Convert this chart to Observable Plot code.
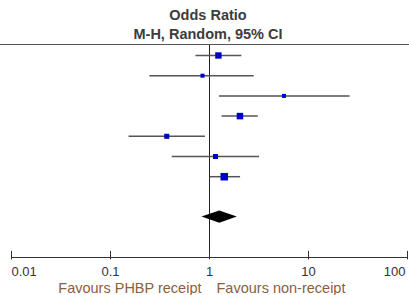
<!DOCTYPE html>
<html><head><meta charset="utf-8">
<script src="https://cdn.jsdelivr.net/npm/d3@7"></script>
<script src="https://cdn.jsdelivr.net/npm/@observablehq/plot@0.6"></script>
<style>
body{margin:0;background:#fff;font-family:"Liberation Sans",Arial,sans-serif;overflow:hidden;}
#head{position:relative;width:409px;height:44px;border-bottom:1px solid #555;overflow:hidden;}
.t{position:absolute;left:0;width:416px;text-align:center;font-weight:bold;font-size:14.5px;color:#3c3c3c;line-height:16px;}
#chart svg{display:block;}
</style></head><body>
<div id="head"><div class="t" style="top:7px">Odds Ratio</div><div class="t" style="top:26px">M-H, Random, 95% CI</div></div>
<div id="chart"></div>
<script>
// Study odds ratios with 95% CI, weights in %
const orEst  = [1.23, 0.85, 5.65, 2.03, 0.37, 1.15, 1.41];
const ciLo   = [0.73, 0.25, 1.26, 1.34, 0.154, 0.42, 1.02];
const ciHi   = [2.12, 2.83, 26.3, 3.11, 0.91, 3.2, 2.06];
const weight = [18.2, 7.3, 7.3, 19.1, 11.4, 11.4, 25.3];
// Pooled estimate: [OR, lower, upper]
const pooled = [1.27, 0.84, 1.91];
const tickValues = [0.01, 0.1, 1, 10, 100];
const tickLabels = ["0.01", "0.1", "1", "10", "100"];
const leftLabel = "Favours PHBP receipt";
const rightLabel = "Favours non-receipt";

const rows = orEst.map((d, i) => ({i, or: d, lo: ciLo[i], hi: ciHi[i], w: weight[i]}));
const pooledRow = 8, axisRow = 10, h = 0.3;
const diamond = [
  {y: pooledRow - h, x1: pooled[0], x2: pooled[0]},
  {y: pooledRow, x1: pooled[1], x2: pooled[2]},
  {y: pooledRow + h, x1: pooled[0], x2: pooled[0]}
];
const ticks = tickValues.map((v, k) => ({v, label: tickLabels[k]}));
const font = '"Liberation Sans", Arial, sans-serif';

const chart = Plot.plot({
  width: 409, height: 250,
  marginTop: 0, marginLeft: 11, marginRight: 2, marginBottom: 38,
  x: {type: "log", domain: [0.01, 100], axis: null},
  y: {domain: [0, 10], range: [10, 212], axis: null},
  r: {type: "sqrt", domain: [0, 25.3], range: [0, 4.25]},
  style: {fontFamily: font, background: "white", overflow: "visible"},
  marks: [
    Plot.ruleX([1], {stroke: "#222", strokeWidth: 1}),
    Plot.ruleY(rows, {y: "i", x1: "lo", x2: "hi", stroke: "#555", strokeWidth: 1.5}),
    Plot.dot(rows, {x: "or", y: "i", r: "w", symbol: "square", fill: "#0000cc", stroke: "none"}),
    Plot.areaX(diamond, {y: "y", x1: "x1", x2: "x2", fill: "black"}),
    Plot.ruleY([axisRow], {stroke: "#333", strokeWidth: 1}),
    Plot.ruleX(ticks, {x: "v", y1: axisRow - 0.3, y2: axisRow + 0.12, stroke: "#333"}),
    Plot.text(ticks.slice(0, 1), {x: "v", y: axisRow, text: "label", dy: 14, textAnchor: "start", fontSize: 13, fill: "#333"}),
    Plot.text(ticks.slice(1, -1), {x: "v", y: axisRow, text: "label", dy: 14, fontSize: 13, fill: "#333"}),
    Plot.text(ticks.slice(-1), {x: "v", y: axisRow, text: "label", dy: 14, dx: -2, textAnchor: "end", fontSize: 13, fill: "#333"}),
    Plot.text([leftLabel], {x: 1, y: axisRow, text: d => d, dy: 31, dx: -8, textAnchor: "end", fontSize: 14.5, fill: "#8b6040"}),
    Plot.text([rightLabel], {x: 1, y: axisRow, text: d => d, dy: 31, dx: 7, textAnchor: "start", fontSize: 14.5, fill: "#8b6040"})
  ]
});
document.getElementById("chart").appendChild(chart);
</script>
</body></html>
